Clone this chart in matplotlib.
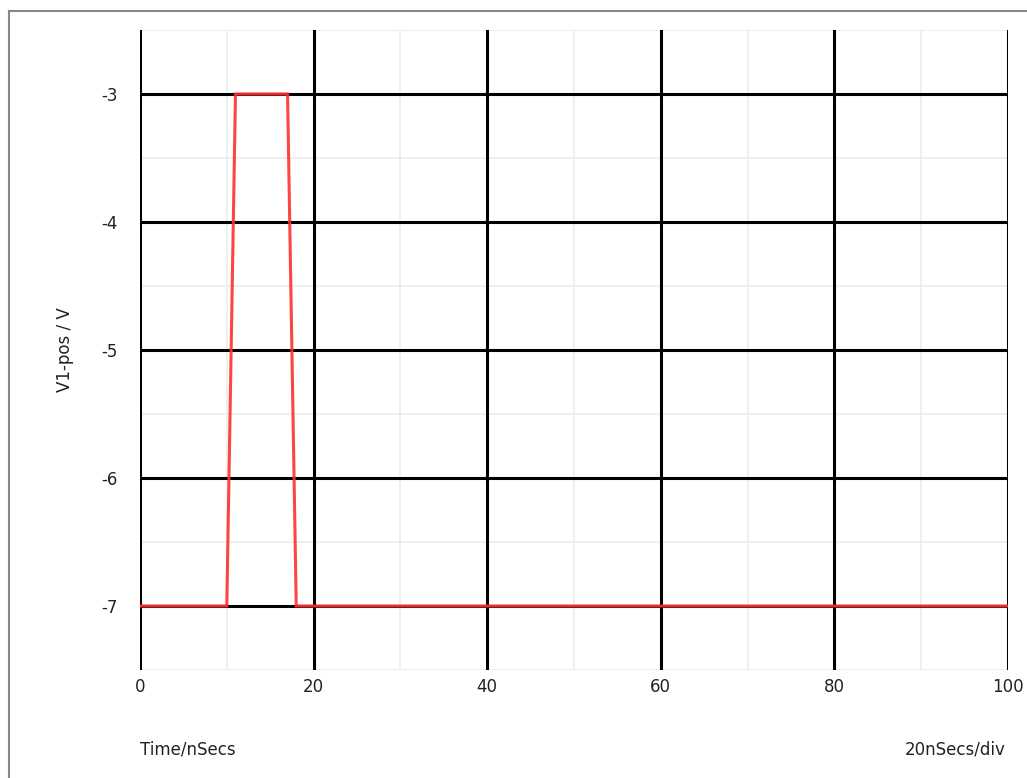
import matplotlib.pyplot as plt
from matplotlib.lines import Line2D

# pulse waveform, time in ns, voltage in V
time_ns = [0, 10, 11, 17, 18, 100]
v1_pos = [-7, -7, -3, -3, -7, -7]

x_ticks = [0, 20, 40, 60, 80, 100]
x_labels = ["0", "20", "40", "60", "80", "100"]
y_ticks = [-7, -6, -5, -4, -3]
y_labels = ["-7", "-6", "-5", "-4", "-3"]

fig = plt.figure(figsize=(10.27, 7.78), dpi=100)
ax = fig.add_axes([140 / 1027, 1 - 670 / 778, 868 / 1027, 640 / 778])
ax.set_xlim(0, 100)
ax.set_ylim(-7.5, -2.5)

# light minor grid
for x in range(10, 100, 20):
    ax.axvline(x, color="#ececec", lw=1.2, zorder=1)
for y in [-7.5, -6.5, -5.5, -4.5, -3.5, -2.5]:
    ax.axhline(y, color="#ececec", lw=1.2, zorder=1)

# black major grid
for x in x_ticks:
    ax.axvline(x, color="black", lw=2.2, zorder=2)
for y in y_ticks:
    ax.axhline(y, color="black", lw=2.2, zorder=2)

ax.plot(time_ns, v1_pos, color="#ff3030", lw=2.2, alpha=0.9, zorder=3,
        solid_joinstyle="miter")

for s in ax.spines.values():
    s.set_visible(False)
ax.set_xticks(x_ticks)
ax.set_xticklabels(x_labels)
ax.set_yticks(y_ticks)
ax.set_yticklabels(y_labels)
ax.tick_params(length=0, labelsize=12, colors="#222222")
ax.tick_params(axis="y", pad=16)
ax.tick_params(axis="x", pad=6)

fig.text(65 / 1027, 1 - 350 / 778, "V1-pos / V", rotation=90, ha="center",
         va="center", fontsize=12, color="#222222")
fig.text(140 / 1027, 1 - 750 / 778, "Time/nSecs", ha="left", va="center",
         fontsize=12, color="#222222")
fig.text(1006 / 1027, 1 - 750 / 778, "20nSecs/div", ha="right", va="center",
         fontsize=12, color="#222222")

# window frame lines (top and left)
fig.add_artist(Line2D([8.5 / 1027, 1], [1 - 10.5 / 778, 1 - 10.5 / 778],
                      transform=fig.transFigure, color="#888888", lw=1.5))
fig.add_artist(Line2D([8.5 / 1027, 8.5 / 1027], [0, 1 - 10.5 / 778],
                      transform=fig.transFigure, color="#888888", lw=1.5))

fig.savefig("out.png", dpi=100)
